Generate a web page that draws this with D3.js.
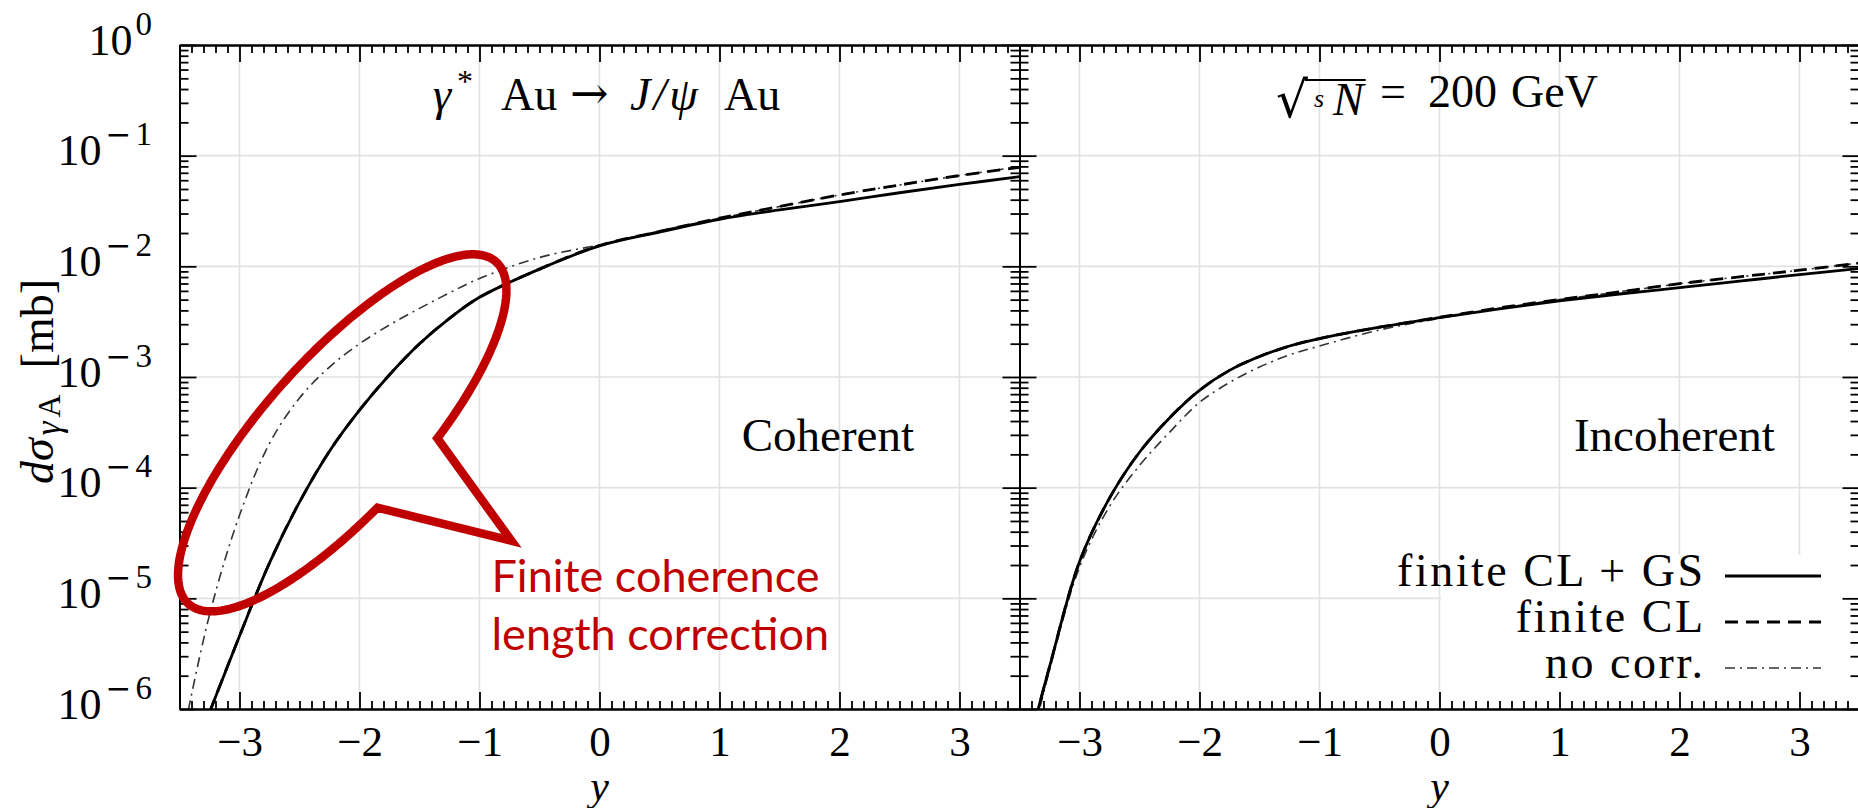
<!DOCTYPE html>
<html>
<head>
<meta charset="utf-8">
<script src="https://cdn.jsdelivr.net/npm/d3@7"></script>
<style>
  body { margin: 0; background: #fff; }
  svg { display: block; font-family: "Liberation Serif", "Times New Roman", serif; }
</style>
</head>
<body>
<svg id="chart" width="1858" height="808"></svg>
<script>
"use strict";

// rapidity grid the curves were read at
var rapidity = [-3.5, -3.25, -3, -2.75, -2.5, -2.25, -2, -1.75, -1.5, -1.25, -1, -0.5, 0, 0.5, 1, 1.5, 2, 2.5, 3, 3.5];

// log10(dsigma / mb)
var cohGS   = [-6.73, -6.03, -5.34, -4.68, -4.13, -3.67, -3.3, -2.98, -2.7, -2.47, -2.28, -2.025, -1.815, -1.69, -1.575, -1.49, -1.415, -1.335, -1.26, -1.19];
var cohCL   = [-6.73, -6.03, -5.34, -4.68, -4.13, -3.67, -3.3, -2.98, -2.7, -2.47, -2.28, -2.025, -1.812, -1.685, -1.565, -1.46, -1.355, -1.265, -1.18, -1.105];
var cohNone = [-6.4, -5.15, -4.25, -3.6, -3.19, -2.91, -2.7, -2.53, -2.38, -2.24, -2.11, -1.92, -1.805, -1.68, -1.565, -1.46, -1.355, -1.265, -1.18, -1.1];
var incGS   = [-6.65, -5.62, -4.67, -4.095, -3.68, -3.37, -3.12, -2.94, -2.815, -2.72, -2.653, -2.55, -2.464, -2.385, -2.313, -2.25, -2.193, -2.134, -2.075, -2.02];
var incCL   = [-6.65, -5.62, -4.67, -4.095, -3.68, -3.37, -3.12, -2.94, -2.815, -2.72, -2.653, -2.55, -2.46, -2.375, -2.3, -2.23, -2.157, -2.095, -2.035, -1.97];
var incNone = [-6.75, -5.65, -4.72, -4.17, -3.8, -3.5, -3.23, -3.05, -2.91, -2.8, -2.72, -2.575, -2.47, -2.38, -2.3, -2.23, -2.157, -2.095, -2.035, -1.97];

var xTicks = [-3, -2, -1, 0, 1, 2, 3];
var yDecades = [-6, -5, -4, -3, -2, -1, 0];
var legendLabels = ["finite CL + GS", "finite CL", "no corr."];

var panels = [
  { label: "Coherent", labelAt: 1.185, series: [cohGS, cohCL, cohNone] },
  { label: "Incoherent", labelAt: 1.12, series: [incGS, incCL, incNone] }
];

var styles = [
  { stroke: "#000", width: 2.8, dash: null },
  { stroke: "#000", width: 2.8, dash: "13,8" },
  { stroke: "#333", width: 1.6, dash: "10,5,2,5" }
];

var SERIF = "'Liberation Serif', 'Times New Roman', serif";
var MATH = "'DejaVu Serif', serif";
var svg = d3.select("#chart");
var plotTop = 45, plotBottom = 709, plotLeft = 179.5, panelW = 840;

var y = d3.scaleLog().domain([1e-6, 1]).range([plotBottom, plotTop]);
var majorY = yDecades.map((e) => Math.pow(10, e));
var minorY = [];
yDecades.slice(0, -1).forEach(function (e) {
  for (var k = 2; k < 10; k++) minorY.push(k * Math.pow(10, e));
});
var minorX = d3.range(-35, 36).filter((d) => d % 10 !== 0).map((d) => d / 10);

function styleAxis(g) {
  g.attr("font-family", SERIF).attr("font-size", null);
  g.select(".domain").attr("stroke", "#000").attr("stroke-width", 2);
  g.selectAll(".tick line").attr("stroke", "#000").attr("stroke-width", 1.8);
}

function addAxis(axis, tx, ty) {
  return svg.append("g").attr("transform", `translate(${tx},${ty})`).call(axis).call(styleAxis);
}

var scales = [];

panels.forEach(function (p, i) {
  var x = d3.scaleLinear().domain([-3.5, 3.5]).range([plotLeft + i * panelW, plotLeft + (i + 1) * panelW]);
  scales.push(x);
  var g = svg.append("g");

  // grid
  g.append("g").selectAll("line").data(xTicks).join("line")
    .attr("x1", x).attr("x2", x).attr("y1", plotTop).attr("y2", plotBottom)
    .attr("stroke", "#e2e2e2").attr("stroke-width", 1.6);
  g.append("g").selectAll("line").data(majorY.slice(1, -1)).join("line")
    .attr("x1", x.range()[0]).attr("x2", x.range()[1]).attr("y1", y).attr("y2", y)
    .attr("stroke", "#e2e2e2").attr("stroke-width", 1.6);

  if (i === 1) {
    // opaque key box
    g.append("rect").attr("x", x(0) + 1.5).attr("y", 555)
      .attr("width", x.range()[1] - x(0)).attr("height", plotBottom - 556)
      .attr("fill", "#fff");
  }

  svg.append("clipPath").attr("id", "clip" + i).append("rect")
    .attr("x", x.range()[0]).attr("y", plotTop).attr("width", panelW).attr("height", plotBottom - plotTop);

  var line = d3.line()
    .x((d, j) => x(rapidity[j]))
    .y((d) => y(Math.pow(10, d)))
    .curve(d3.curveCatmullRom.alpha(0.5));

  var curves = g.append("g").attr("clip-path", `url(#clip${i})`);
  [2, 1, 0].forEach(function (k) {
    curves.append("path")
      .attr("d", line(p.series[k]))
      .attr("fill", "none")
      .attr("stroke", styles[k].stroke)
      .attr("stroke-width", styles[k].width)
      .attr("stroke-dasharray", styles[k].dash)
      .attr("stroke-linejoin", "round");
  });

  // frame + ticks, all pointing inward
  var x0 = x.range()[0], x1 = x.range()[1];
  addAxis(d3.axisBottom(x).tickValues(minorX).tickSizeInner(-8).tickSizeOuter(0).tickFormat(""), 0, plotBottom);
  var xb = addAxis(d3.axisBottom(x).tickValues(xTicks).tickSizeInner(-17).tickSizeOuter(0).tickFormat(d3.format("d")), 0, plotBottom);
  xb.selectAll("text").attr("y", 47).attr("dy", null).attr("fill", "#000")
    .attr("font-family", SERIF).attr("font-size", 43);
  addAxis(d3.axisTop(x).tickValues(minorX).tickSizeInner(-8).tickSizeOuter(0).tickFormat(""), 0, plotTop);
  addAxis(d3.axisTop(x).tickValues(xTicks).tickSizeInner(-17).tickSizeOuter(0).tickFormat(""), 0, plotTop);

  addAxis(d3.axisLeft(y).tickValues(minorY).tickSizeInner(-9).tickSizeOuter(0).tickFormat(""), x0, 0);
  var yl = addAxis(d3.axisLeft(y).tickValues(majorY).tickSizeInner(-17).tickSizeOuter(0).tickFormat(""), x0, 0);
  addAxis(d3.axisRight(y).tickValues(minorY).tickSizeInner(-9).tickSizeOuter(0).tickFormat(""), x1, 0);
  addAxis(d3.axisRight(y).tickValues(majorY).tickSizeInner(-17).tickSizeOuter(0).tickFormat(""), x1, 0);

  if (i === 0) {
    yl.selectAll(".tick text").each(function (d) {
      var t = d3.select(this).attr("x", -27.5).attr("y", 9).attr("dy", null)
        .attr("fill", "#000").attr("font-family", SERIF).attr("font-size", 44)
        .attr("text-anchor", "end");
      var e = Math.round(Math.log10(d));
      t.append("tspan").text("10");
      if (e === 0) {
        t.append("tspan").attr("font-size", 33).attr("dy", -20).attr("dx", 3).text("0");
      } else {
        t.append("tspan").attr("font-family", MATH).attr("font-size", 31).attr("dy", -20).attr("dx", 4).text("\u2212");
        t.append("tspan").attr("font-size", 33).attr("dx", 4).text(Math.abs(e));
      }
    });
  }

  // axis title
  svg.append("text").attr("x", x(0)).attr("y", 800).attr("text-anchor", "middle")
    .attr("font-size", 42).attr("font-style", "italic").text("y");

  svg.append("text").attr("x", x(p.labelAt)).attr("y", 451)
    .attr("font-size", 47).text(p.label);
});

var xa = scales[0], xb2 = scales[1];

// panel titles, pieces placed like the typeset original
var t1 = svg.append("text").attr("y", 110).attr("font-size", 46);
t1.append("tspan").attr("x", 433).attr("font-style", "italic").text("\u03b3");
t1.append("tspan").attr("x", 457).attr("dy", -18).attr("font-size", 32).text("*");
t1.append("tspan").attr("x", 501).attr("dy", 18).text("Au");
t1.append("tspan").attr("x", 570).attr("dy", -1).attr("font-family", MATH).attr("font-size", 46).text("\u2192");
t1.append("tspan").attr("x", 630).attr("dy", 1).attr("font-style", "italic").attr("letter-spacing", 3).text("J/\u03c8");
t1.append("tspan").attr("x", 724).text("Au");

var t2 = svg.append("text").attr("y", 107).attr("font-size", 46);
t2.append("tspan").attr("x", 1276).attr("dy", 10).attr("font-family", MATH).attr("font-size", 50).text("\u221a");
t2.append("tspan").attr("x", 1314).attr("dy", -10).attr("font-style", "italic").attr("font-size", 26).text("s");
t2.append("tspan").attr("x", 1333).attr("dy", 8).attr("font-style", "italic").text("N");
t2.append("tspan").attr("x", 1380).attr("dy", -8).text("=");
t2.append("tspan").attr("x", 1428).text("200");
t2.append("tspan").attr("x", 1511).text("GeV");
var node = t2.node();
var rRoot = node.getExtentOfChar(0), rN = node.getExtentOfChar(2);
svg.append("line")
  .attr("x1", rRoot.x + rRoot.width - 3).attr("x2", rN.x + rN.width + 2)
  .attr("y1", 80).attr("y2", 80)
  .attr("stroke", "#000").attr("stroke-width", 2);

// y label
var yt = svg.append("text").attr("transform", "translate(53,484) rotate(-90)")
  .attr("font-size", 46);
yt.append("tspan").attr("font-style", "italic").text("d\u03c3");
yt.append("tspan").attr("font-style", "italic").attr("font-size", 35).attr("dy", 7).attr("dx", 3).text("\u03b3");
yt.append("tspan").attr("font-size", 32).attr("dx", 4).text("A");
yt.append("tspan").attr("dy", -7).attr("dx", 26).text("[mb]");

// key: one text block, each line right-aligned
var rows = [576, 622, 668];
var keyEnd = 1703, sample = [1725, 1821];
var key = svg.append("text").attr("font-size", 46).attr("text-anchor", "end")
  .attr("letter-spacing", 2.5);
legendLabels.forEach(function (lab, k) {
  key.append("tspan").attr("x", keyEnd + 2.5).attr("y", rows[k] + 10).text(lab);
  svg.append("line").attr("x1", sample[0]).attr("x2", sample[1])
    .attr("y1", rows[k]).attr("y2", rows[k])
    .attr("stroke", styles[k].stroke).attr("stroke-width", styles[k].width)
    .attr("stroke-dasharray", styles[k].dash);
});

// red callout around the low-y region of the coherent panel
var callout = { cx: -2.144, cy: 3.13e-4, rx: 230, ry: 77, angle: -48, from: 98, to: 435, tip: [33, 198] };
var pts = d3.range(callout.from, callout.to + 1, 1).map(function (t) {
  var r = t * Math.PI / 180;
  return [callout.rx * Math.cos(r), callout.ry * Math.sin(r)];
});
pts.push(callout.tip);
svg.append("path")
  .attr("transform", `translate(${xa(callout.cx)},${y(callout.cy)}) rotate(${callout.angle})`)
  .attr("d", d3.line()(pts) + "Z")
  .attr("fill", "none").attr("stroke", "#c00000").attr("stroke-width", 8.5)
  .attr("stroke-linejoin", "miter");

var note = svg.append("text").attr("font-family", "Lato, 'Open Sans', sans-serif")
  .attr("font-size", 45).attr("fill", "#c00000");
note.append("tspan").attr("x", xa(-0.9)).attr("y", 592).text("Finite coherence");
note.append("tspan").attr("x", xa(-0.9)).attr("y", 650).text("length correction");
</script>
</body>
</html>
